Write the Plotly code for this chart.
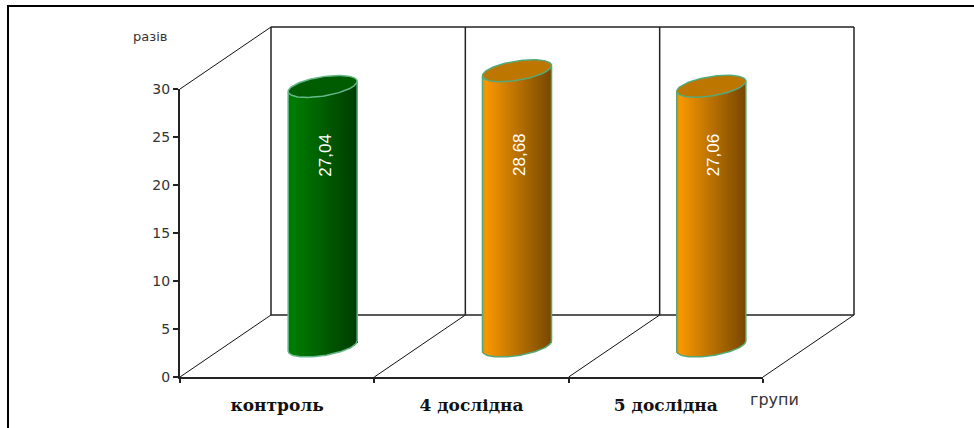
import numpy as np
import plotly.graph_objects as go

categories = ["контроль", "4 дослідна", "5 дослідна"]
values = [27.04, 28.68, 27.06]
value_labels = ["27,04", "28,68", "27,06"]
y_ticks = [0, 5, 10, 15, 20, 25, 30]
light = [(0, 128, 0), (255, 156, 0), (255, 156, 0)]
dark = [(0, 60, 0), (120, 72, 0), (120, 72, 0)]
caps = ["#005c00", "#bd7600", "#bd7600"]
outlines = ["#66b88a", "#55a878", "#55a878"]

W, H = 974, 428
PX0, PX3 = 180, 763      # front plane left/right in pixels
PY0, PY30 = 377, 89      # front plane value 0 / 30 in pixels
ux = (PX3 - PX0) / 3
uy = (PY0 - PY30) / 30
DX, DY = 91 / ux, 62 / uy  # depth of the box in axis units

xr = [-PX0 / ux, (W - PX0) / ux]
yr = [-(H - PY0) / uy, PY0 / uy]

fig = go.Figure()


def ln(x0, y0, x1, y1, w=1.5, c="#222222"):
    return dict(type="line", x0=x0, y0=y0, x1=x1, y1=y1, xref="x", yref="y",
                layer="below", line=dict(color=c, width=w))


shapes = []
for i in range(4):
    shapes.append(ln(i + DX, DY, i + DX, 30 + DY))
    shapes.append(ln(i, 0, i + DX, DY, w=1, c="#111111"))
shapes.append(ln(0, 30, DX, 30 + DY, w=1, c="#111111"))
shapes.append(ln(DX, 30 + DY, 3 + DX, 30 + DY))
shapes.append(ln(DX, DY, 3 + DX, DY))
# outer picture frame
for a in [(8, 5, 8, H), (7, 6, W, 6)]:
    shapes.append(dict(type="line", xref="paper", yref="paper",
                       x0=a[0] / W, x1=a[2] / W, y0=1 - a[1] / H, y1=1 - a[3] / H,
                       layer="below", line=dict(color="black", width=2)))

# cylinder geometry, in pixels then converted to axis units
A, P, Q = 30.6, 16.0, 11.0
RX = np.hypot(A, P)
t = np.linspace(0, 2 * np.pi, 121)


def arcs(xs):
    """lower / upper ellipse y offsets (axis units) for pixel offsets xs"""
    s = xs / RX
    psi = np.arctan2(A, P)
    ang = np.arcsin(np.clip(s, -1, 1))
    up = Q * np.sin(ang - psi)
    lo = Q * np.sin(np.pi - ang - psi)
    return np.minimum(up, lo) / uy, np.maximum(up, lo) / uy


for i, v in enumerate(values):
    cx = i + 0.5 + DX / 2
    cy = DY / 2
    xs = np.arange(-RX + 0.5, RX, 1.0)
    lo, up = arcs(xs)
    frac = (xs + RX) / (2 * RX)
    cols = []
    for f in frac:
        g = min(f / 0.06, 1) * 0.08 + 0.92 if f < 0.06 else 1.0
        c = [int(round((l + (d - l) * f) * g)) for l, d in zip(light[i], dark[i])]
        cols.append("rgb(%d,%d,%d)" % tuple(c))
    fig.add_bar(x=cx + xs / ux, y=np.full(xs.shape, v), base=cy + lo,
                width=1.05 / ux, marker=dict(color=cols, line=dict(width=0)),
                showlegend=False, hoverinfo="skip")
    # cap
    ex = (A * np.cos(t) + P * np.sin(t)) / ux
    ey = Q * np.sin(t) / uy
    fig.add_scatter(x=cx + ex, y=cy + v + ey, mode="lines", fill="toself",
                    fillcolor=caps[i], line=dict(color=outlines[i], width=1.5),
                    showlegend=False, hoverinfo="skip")
    # silhouette
    xo = np.linspace(-RX, RX, 70)
    lo2, _ = arcs(xo)
    sx = np.r_[cx + xo / ux]
    sy = np.r_[cy + lo2]
    px = np.r_[sx[0], sx, sx[-1]]
    py = np.r_[cy + v + lo2[0], sy, cy + v + lo2[-1]]
    fig.add_scatter(x=px, y=py, mode="lines", line=dict(color=outlines[i], width=1.5),
                    showlegend=False, hoverinfo="skip")
    fig.add_annotation(x=cx + 2 / ux, y=(PY0 - 155) / uy, text=value_labels[i], textangle=-90,
                       showarrow=False, font=dict(family="Liberation Sans", size=17, color="white"))

# front plane axes carrying ticks and labels
fig.add_scatter(x=[0.5, 1.5, 2.5], y=[0, 0, 0], xaxis="x2", yaxis="y2", mode="markers",
                marker=dict(opacity=0), showlegend=False, hoverinfo="skip")

fig.add_annotation(text="разів", x=(150 - PX0) / ux, y=(PY0 - 36) / uy, showarrow=False,
                   font=dict(family="DejaVu Sans", size=13, color="#333333"))
fig.add_annotation(text="групи", x=(774 - PX0) / ux, y=(PY0 - 399) / uy, showarrow=False,
                   font=dict(family="DejaVu Sans", size=16, color="#333333"))

hidden = dict(visible=False, fixedrange=True, automargin=False)
fig.update_layout(
    template="none",
    width=W, height=H, margin=dict(l=0, r=0, t=0, b=0, pad=0), autosize=False,
    paper_bgcolor="white", plot_bgcolor="rgba(0,0,0,0)",
    bargap=0, barmode="overlay", showlegend=False, shapes=shapes,
    xaxis=dict(range=xr, domain=[0, 1], **hidden),
    yaxis=dict(range=yr, domain=[0, 1], **hidden),
    xaxis2=dict(range=[0, 3], domain=[PX0 / W, PX3 / W], anchor="y2", showline=True, automargin=False,
                linecolor="#222222", linewidth=2, showgrid=False, zeroline=False,
                tickmode="array", tickvals=[0.5, 1.5, 2.5], ticktext=categories,
                ticks="outside", ticklen=12, tickcolor="rgba(0,0,0,0)", tickwidth=1,
                tickfont=dict(family="DejaVu Serif", size=17, weight="bold", color="#111111"),
                minor=dict(tickmode="array", tickvals=[0, 1, 2, 3], ticks="outside", ticklen=4,
                           tickwidth=2, tickcolor="#222222", showgrid=False)),
    yaxis2=dict(range=[0, 30], domain=[(H - PY0) / H, (H - PY30) / H], anchor="x2", showline=True,
                automargin=False,
                linecolor="#222222", linewidth=2, showgrid=False, zeroline=False,
                tickmode="array", tickvals=y_ticks, ticks="outside", ticklen=5, tickwidth=1.5,
                tickcolor="#222222",
                tickfont=dict(family="DejaVu Sans", size=14, color="#333333")),
)
fig.write_html("out.html", config=dict(displayModeBar=False),
               post_script="document.body.style.margin='0';document.body.style.overflow='hidden';")
